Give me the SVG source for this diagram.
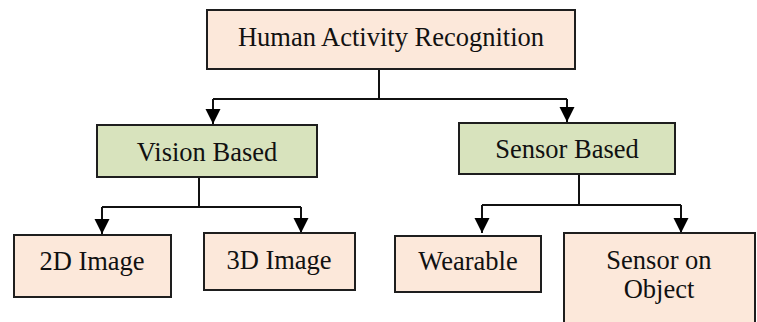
<svg xmlns="http://www.w3.org/2000/svg" width="757" height="322" viewBox="0 0 757 322" font-family="Liberation Serif, Times New Roman, serif">
<style>
.box{stroke:#1e1e1e;stroke-width:2}
.peach{fill:#fce8da}
.green{fill:#d8e3bd}
.lbl{font-size:26.5px;fill:#111;text-anchor:middle}
.ln{fill:none;stroke:#111;stroke-width:2}
</style>
<defs>
<marker id="ah" markerUnits="userSpaceOnUse" markerWidth="16" markerHeight="16" viewBox="0 0 16 16" refX="15" refY="8" orient="auto">
<path d="M0,0.5 L15,8 L0,15.5 Z" fill="#000"/>
</marker>
</defs>
<rect width="757" height="322" fill="#fff"/>
<g id="connectors">
<path class="ln" d="M379,69 V99"/>
<path class="ln" d="M213,99 H567"/>
<path class="ln" d="M213,99 V124" marker-end="url(#ah)"/>
<path class="ln" d="M567,99 V122" marker-end="url(#ah)"/>
<path class="ln" d="M199,177 V207"/>
<path class="ln" d="M102,207 H301"/>
<path class="ln" d="M102,207 V234" marker-end="url(#ah)"/>
<path class="ln" d="M301,207 V233" marker-end="url(#ah)"/>
<path class="ln" d="M579,174 V205"/>
<path class="ln" d="M482,205 H681"/>
<path class="ln" d="M482,205 V233" marker-end="url(#ah)"/>
<path class="ln" d="M681,205 V233" marker-end="url(#ah)"/>
</g>
<g id="har">
<rect class="box peach" x="207" y="10" width="368" height="59"/>
<text class="lbl" x="391" y="46">Human Activity Recognition</text>
</g>
<g id="vision">
<rect class="box green" x="97" y="125" width="220" height="52"/>
<text class="lbl" x="207" y="161">Vision Based</text>
</g>
<g id="sensor">
<rect class="box green" x="459" y="123" width="216" height="51"/>
<text class="lbl" x="567" y="158">Sensor Based</text>
</g>
<g id="img2d">
<rect class="box peach" x="14" y="235" width="157" height="62"/>
<text class="lbl" x="92" y="270">2D Image</text>
</g>
<g id="img3d">
<rect class="box peach" x="204" y="233" width="151" height="57"/>
<text class="lbl" x="279" y="269">3D Image</text>
</g>
<g id="wearable">
<rect class="box peach" x="395" y="236" width="146" height="56"/>
<text class="lbl" x="468" y="270">Wearable</text>
</g>
<g id="object">
<rect class="box peach" x="564" y="233" width="191" height="100"/>
<text class="lbl" x="659" y="269">Sensor on</text>
<text class="lbl" x="659" y="298">Object</text>
</g>
</svg>
